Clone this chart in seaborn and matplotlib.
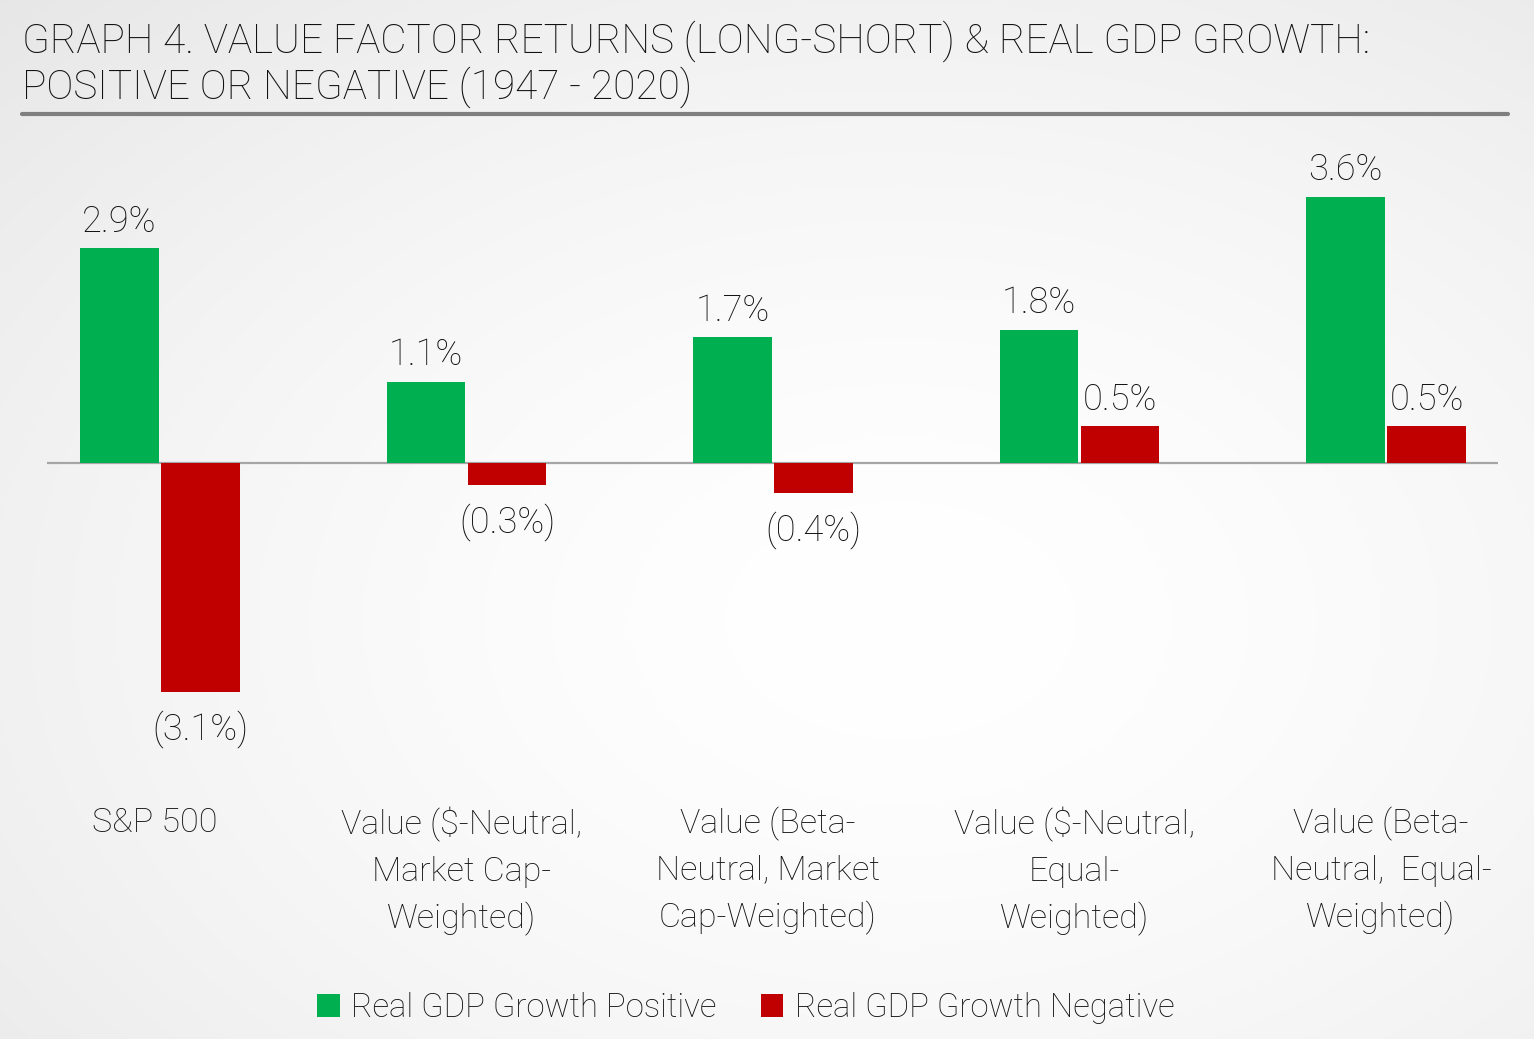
import numpy as np
import pandas as pd
import matplotlib
matplotlib.use("Agg")
import matplotlib.pyplot as plt
import matplotlib.transforms as mtransforms
from matplotlib.lines import Line2D
from matplotlib.patches import Patch
import seaborn as sns

# ---- data ----
categories = [
    "S&P 500",
    "Value ($-Neutral,\nMarket Cap-\nWeighted)",
    "Value (Beta-\nNeutral, Market\nCap-Weighted)",
    "Value ($-Neutral,\nEqual-\nWeighted)",
    "Value (Beta-\nNeutral,  Equal-\nWeighted)",
]
series_names = ["Real GDP Growth Positive", "Real GDP Growth Negative"]
gdp_positive = [2.9, 1.1, 1.7, 1.8, 3.6]
gdp_negative = [-3.1, -0.3, -0.4, 0.5, 0.5]
title_text = "GRAPH 4. VALUE FACTOR RETURNS (LONG-SHORT) & REAL GDP GROWTH:\nPOSITIVE OR NEGATIVE (1947 - 2020)"

GREEN = "#00B050"
RED = "#C00000"
TXT = "#111111"
FW = "light"

df = pd.DataFrame({
    "category": categories * 2,
    "series": [series_names[0]] * len(categories) + [series_names[1]] * len(categories),
    "value": gdp_positive + gdp_negative,
})

sns.set_theme(style="white")
plt.rcParams["font.family"] = ["Roboto", "DejaVu Sans"]
plt.rcParams["font.weight"] = FW

W, H = 1534, 1039
fig = plt.figure(figsize=(W / 100, H / 100), dpi=100)

# background radial gradient
bg = fig.add_axes([0, 0, 1, 1], zorder=-10)
yy, xx = np.mgrid[0:H, 0:W]
cx, cy = 900, 620
r = np.sqrt(((xx - cx) / W) ** 2 + ((yy - cy) / H) ** 2)
r = r / r.max()
shade = 1.0 - 0.095 * np.clip(r, 0, 1) ** 1.6
bg.imshow(np.dstack([shade] * 3), aspect="auto", extent=[0, 1, 0, 1], origin="upper")
bg.set_axis_off()

# main axes: pixel geometry
x0_px, x1_px = 47, 1498
yt_px, yb_px = 130, 790
ax = fig.add_axes([x0_px / W, 1 - yb_px / H, (x1_px - x0_px) / W, (yb_px - yt_px) / H])
ax.set_facecolor("none")

sns.barplot(data=df, x="category", y="value", hue="series", order=categories,
            hue_order=series_names, palette=[GREEN, RED], width=0.529, gap=0.037,
            saturation=1, ax=ax, legend=False, linewidth=0)

ppu = 306.5
ax.set_xlim((x0_px - 160) / ppu, (x1_px - 160) / ppu)
yppu = 74.0
ax.set_ylim(-(yb_px - 463) / yppu, (463 - yt_px) / yppu)
ax.axhline(0, color="#A6A6A6", lw=1.6, zorder=0.5)

for s in ax.spines.values():
    s.set_visible(False)
ax.set_yticks([])
ax.set_xlabel("")
ax.set_ylabel("")
ax.tick_params(axis="x", length=0, pad=12, labelsize=24.5, labelcolor=TXT)
shift = mtransforms.ScaledTranslation(-5 / 100, 0, fig.dpi_scale_trans)
for lbl in ax.get_xticklabels():
    lbl.set_linespacing(1.55)
    lbl.set_fontweight(FW)
    lbl.set_multialignment("center")
    lbl.set_transform(lbl.get_transform() + shift)

# value labels
def fmt(v):
    return f"{v:.1f}%" if v >= 0 else f"({abs(v):.1f}%)"

for cont in ax.containers:
    for bar in cont:
        v = bar.get_y() + bar.get_height() if bar.get_y() >= 0 else bar.get_y()
        xc = bar.get_x() + bar.get_width() / 2
        if v >= 0:
            ax.annotate(fmt(v), (xc, v), xytext=(0, 6), textcoords="offset points",
                        ha="center", va="bottom", fontsize=26, color=TXT, fontweight=FW)
        else:
            ax.annotate(fmt(v), (xc, v), xytext=(0, -13), textcoords="offset points",
                        ha="center", va="top", fontsize=26, color=TXT, fontweight=FW)

# title + rule
fig.text(22 / W, 1 - 20 / H, title_text, ha="left", va="top", fontsize=29.2,
         color=TXT, fontweight=FW, linespacing=1.14)
fig.add_artist(Line2D([22 / W, 1508 / W], [1 - 114 / H, 1 - 114 / H],
                      transform=fig.transFigure, color="#7F7F7F", lw=3))

# legend
handles = [Patch(facecolor=GREEN, edgecolor="none"), Patch(facecolor=RED, edgecolor="none")]
fig.legend(handles, series_names, loc="center", bbox_to_anchor=(746 / W, 1 - 1008 / H),
           ncol=2, frameon=False, handlelength=0.68, handleheight=0.68,
           handletextpad=0.35, columnspacing=1.35, labelcolor=TXT,
           prop={"weight": FW, "size": 23.7})

fig.savefig("out.png", dpi=100)
